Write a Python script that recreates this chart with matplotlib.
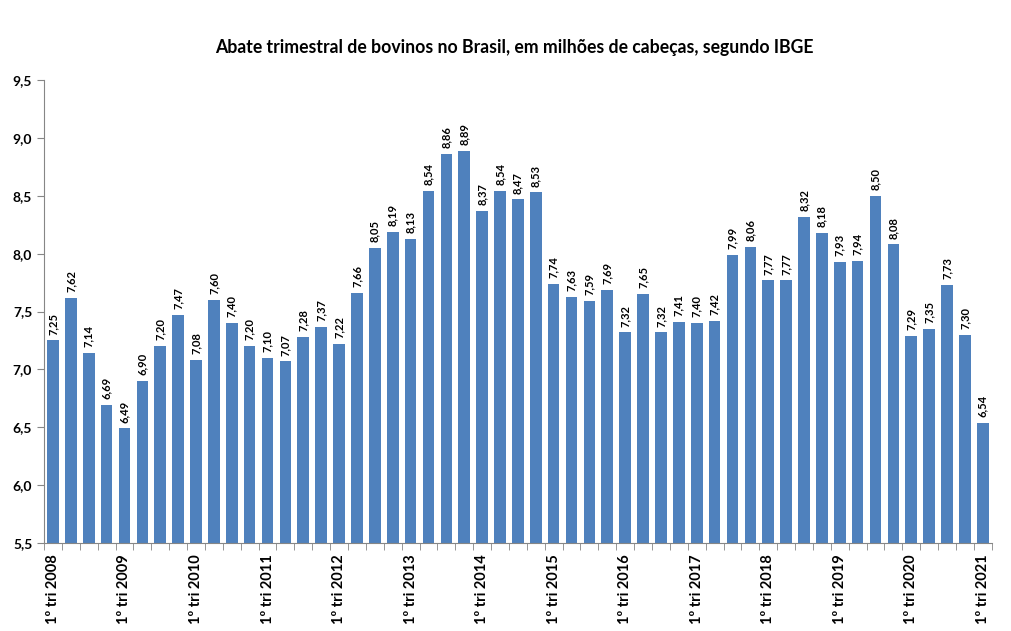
import matplotlib
matplotlib.use("Agg")
import matplotlib.pyplot as plt
import numpy as np

plt.rcParams["font.family"] = ["Lato", "DejaVu Sans"]

years = list(range(2008, 2022))
values = [7.25, 7.62, 7.14, 6.69,
          6.49, 6.90, 7.20, 7.47,
          7.08, 7.60, 7.40, 7.20,
          7.10, 7.07, 7.28, 7.37,
          7.22, 7.66, 8.05, 8.19,
          8.13, 8.54, 8.86, 8.89,
          8.37, 8.54, 8.47, 8.53,
          7.74, 7.63, 7.59, 7.69,
          7.32, 7.65, 7.32, 7.41,
          7.40, 7.42, 7.99, 8.06,
          7.77, 7.77, 8.32, 8.18,
          7.93, 7.94, 8.50, 8.08,
          7.29, 7.35, 7.73, 7.30,
          6.54]
tick_labels = ["1º tri %d" % y for y in years]
title = "Abate trimestral de bovinos no Brasil, em milhões de cabeças, segundo IBGE"

fig = plt.figure(figsize=(10.12, 6.31), dpi=100)
ax = fig.add_axes([0.0435, 0.1395, 0.9365, 0.7335])

x = np.arange(len(values))
ax.bar(x, values, width=0.65, color="#4F81BD", zorder=2)

for xi, v in zip(x, values):
    ax.text(xi, v + 0.05, ("%.2f" % v).replace(".", ","), rotation=90,
            ha="center", va="bottom", fontsize=8, fontweight="bold")

ax.set_ylim(5.5, 9.5)
ax.set_xlim(-0.5, len(values) - 0.5)
yt = np.arange(5.5, 9.51, 0.5)
ax.set_yticks(yt)
ax.set_yticklabels([("%.1f" % t).replace(".", ",") for t in yt],
                   fontsize=10, fontweight="bold")

ax.set_xticks(np.arange(0, len(values), 4))
ax.set_xticklabels(tick_labels, rotation=90, fontsize=10.5, fontweight="bold")
ax.set_xticks(np.arange(-0.5, len(values), 1), minor=True)
ax.tick_params(axis="x", which="major", length=0, pad=8)
ax.tick_params(axis="x", which="minor", length=5, color="#868686")
ax.tick_params(axis="y", length=5, color="#868686")

for s in ["top", "right"]:
    ax.spines[s].set_visible(False)
for s in ["left", "bottom"]:
    ax.spines[s].set_color("#868686")

fig.text(0.508, 0.925, title, ha="center", va="center", fontsize=12.7, fontweight="bold")

fig.savefig("out.png", dpi=100)
